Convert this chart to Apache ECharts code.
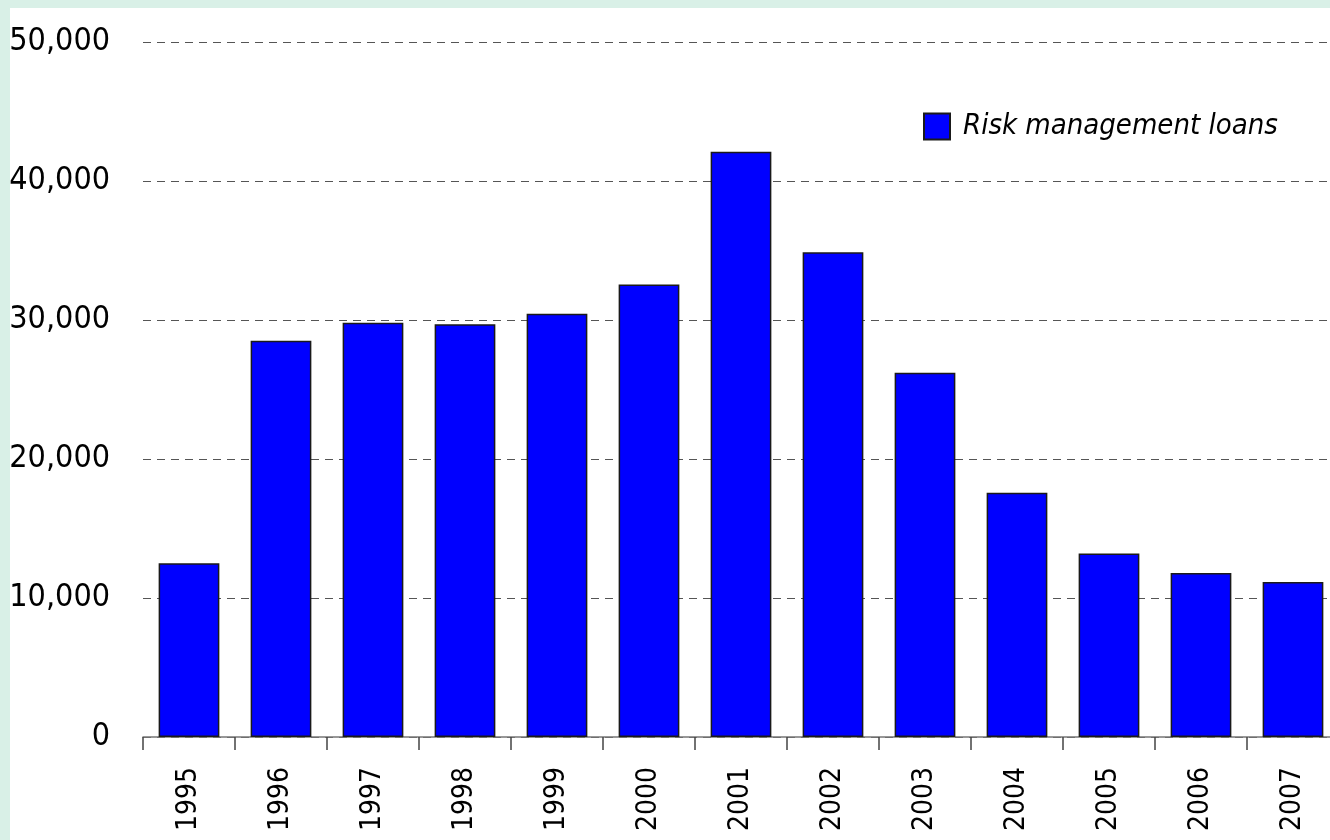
<!DOCTYPE html>
<html>
<head>
<meta charset="utf-8">
<script src="https://cdn.jsdelivr.net/npm/echarts@6/dist/echarts.min.js"></script>
<style>
  html, body { margin: 0; padding: 0; background: #d9f0e7; width: 1330px; height: 840px; overflow: hidden; }
  #chart { position: absolute; left: 10px; top: 8px; width: 1320px; height: 832px; background: #ffffff; }
</style>
</head>
<body>
<div id="chart"></div>
<script>
const categories = ['1995','1996','1997','1998','1999','2000','2001','2002','2003','2004','2005','2006','2007'];
const seriesName = 'Risk management loans';
const loanValues = [12500, 28500, 29800, 29700, 30450, 32550, 42100, 34880, 26200, 17580, 13200, 11800, 11150];
const yTicks = { min: 0, max: 50000, interval: 10000 };

const FONT = '"Liberation Sans Narrow", "DejaVu Sans Condensed", sans-serif';
const chart = echarts.init(document.getElementById('chart'), null, { renderer: 'canvas' });
chart.setOption({
  animation: false,
  backgroundColor: '#ffffff',
  grid: { left: 133, top: 34, width: 1196, height: 695, containLabel: false, outerBoundsMode: 'none' },
  legend: {
    data: [seriesName],
    left: 908, top: 99,
    itemWidth: 26, itemHeight: 26,
    icon: 'rect',
    textStyle: { fontFamily: FONT, fontStyle: 'italic', fontSize: 29, color: '#000', padding: [0, 0, 0, 8] }
  },
  xAxis: {
    type: 'category',
    data: categories,
    boundaryGap: true,
    axisLine: { show: true, lineStyle: { color: '#777', width: 1.5 } },
    axisTick: { show: true, length: 13, lineStyle: { color: '#444', width: 1.5 } },
    axisLabel: { rotate: 90, margin: 30, fontFamily: FONT, fontSize: 28, color: '#000' },
    splitLine: { show: false }
  },
  yAxis: {
    type: 'value',
    min: yTicks.min, max: yTicks.max, interval: yTicks.interval,
    axisLine: { show: false },
    axisTick: { show: false },
    axisLabel: {
      margin: 33, fontFamily: FONT, fontSize: 32, color: '#000',
      formatter: v => v.toLocaleString('en-US')
    },
    splitLine: { show: true, lineStyle: { color: '#555', type: [8, 6], width: 1.2 } }
  },
  series: [{
    name: seriesName,
    type: 'bar',
    data: loanValues,
    barCategoryGap: '34%',
    itemStyle: { color: '#0000ff', borderColor: '#1a1a1a', borderWidth: 1.5 }
  }]
});
</script>
</body>
</html>
